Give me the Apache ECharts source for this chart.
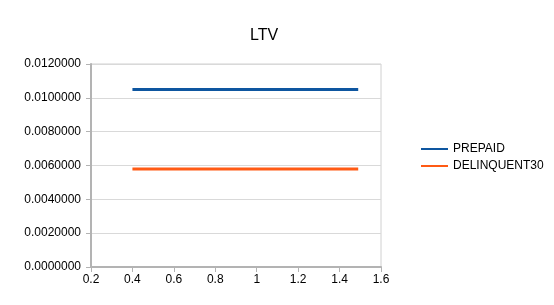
<!DOCTYPE html>
<html><head><meta charset="utf-8">
<script src="https://cdn.jsdelivr.net/npm/echarts@6/dist/echarts.min.js"></script>
<style>html,body{margin:0;padding:0;background:#fff}#c{width:554px;height:305px}</style>
</head><body><div id="c"></div>
<script>
const seriesNames = ["PREPAID", "DELINQUENT30"];
const xValues = [0.4, 1.49];
const prepaid = [0.0105, 0.0105];
const delinquent30 = [0.0058, 0.0058];
const colors = ["#0e56a0", "#ff5a14"];

const chart = echarts.init(document.getElementById('c'));
chart.setOption({
  animation: false,
  backgroundColor: '#fff',
  title: { text: 'LTV', left: 259, top: 23, textAlign: 'center',
    textStyle: { fontFamily: 'Liberation Sans', fontSize: 16, fontWeight: 'normal', color: '#000' } },
  grid: { left: 91, right: 173, top: 64, bottom: 38, show: true, borderColor: '#d0d0d0', borderWidth: 1 },
  legend: {
    orient: 'vertical', left: 416, top: 138, itemWidth: 27, itemHeight: 2, itemGap: 5,
    icon: 'rect',
    textStyle: { fontFamily: 'Liberation Sans', fontSize: 12, color: '#000', padding: [0,0,0,0] },
    data: seriesNames
  },
  xAxis: {
    type: 'value', min: 0.2, max: 1.6, interval: 0.2,
    axisLine: { show: true, lineStyle: { color: '#b3b3b3', width: 2 } },
    axisTick: { show: true, length: 5, lineStyle: { color: '#b3b3b3' } },
    splitLine: { show: false },
    axisLabel: { fontFamily: 'Liberation Sans', fontSize: 12, color: '#000', margin: 7,
      formatter: v => String(parseFloat(v.toFixed(1))) }
  },
  yAxis: {
    type: 'value', min: 0, max: 0.012, interval: 0.002,
    axisLine: { show: true, lineStyle: { color: '#b3b3b3', width: 2 } },
    axisTick: { show: true, length: 5, lineStyle: { color: '#b3b3b3' } },
    splitLine: { show: true, lineStyle: { color: '#d9d9d9', width: 1 } },
    axisLabel: { fontFamily: 'Liberation Sans', fontSize: 12, color: '#000', margin: 10,
      formatter: v => v.toFixed(7) }
  },
  series: [
    { name: seriesNames[0], type: 'line', data: xValues.map((x,i)=>[x, prepaid[i]]),
      symbol: 'none', lineStyle: { width: 3, color: colors[0] }, itemStyle: { color: colors[0] } },
    { name: seriesNames[1], type: 'line', data: xValues.map((x,i)=>[x, delinquent30[i]]),
      symbol: 'none', lineStyle: { width: 3, color: colors[1] }, itemStyle: { color: colors[1] } }
  ]
});
</script></body></html>
